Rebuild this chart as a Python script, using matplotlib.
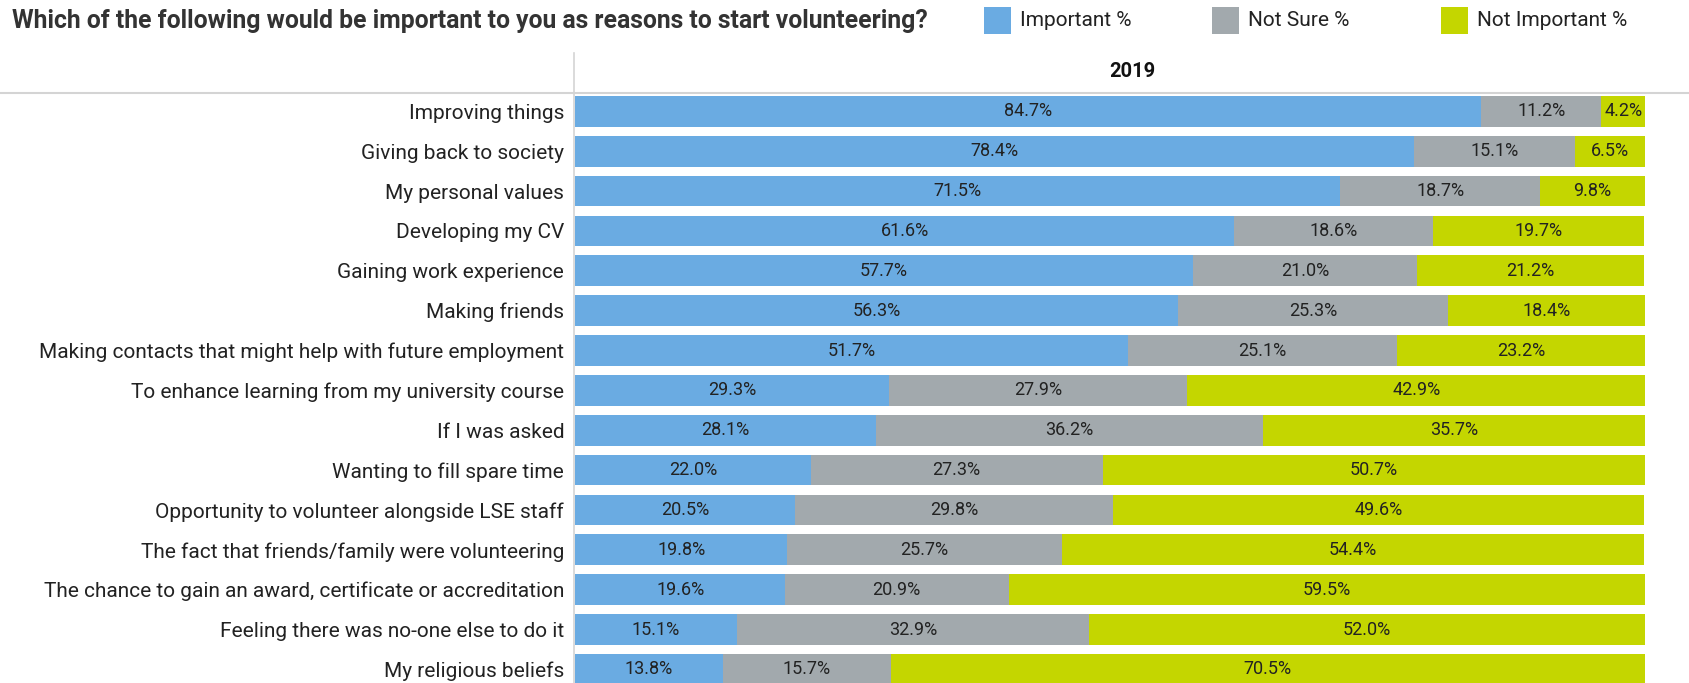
import matplotlib
matplotlib.use("Agg")
import matplotlib.pyplot as plt
from matplotlib.lines import Line2D
from matplotlib.patches import Rectangle
import numpy as np

plt.rcParams['font.family'] = ['Roboto', 'DejaVu Sans']

categories = [
    "Improving things",
    "Giving back to society",
    "My personal values",
    "Developing my CV",
    "Gaining work experience",
    "Making friends",
    "Making contacts that might help with future employment",
    "To enhance learning from my university course",
    "If I was asked",
    "Wanting to fill spare time",
    "Opportunity to volunteer alongside LSE staff",
    "The fact that friends/family were volunteering",
    "The chance to gain an award, certificate or accreditation",
    "Feeling there was no-one else to do it",
    "My religious beliefs",
]
important = [84.7, 78.4, 71.5, 61.6, 57.7, 56.3, 51.7, 29.3, 28.1, 22.0, 20.5, 19.8, 19.6, 15.1, 13.8]
not_sure = [11.2, 15.1, 18.7, 18.6, 21.0, 25.3, 25.1, 27.9, 36.2, 27.3, 29.8, 25.7, 20.9, 32.9, 15.7]
not_important = [4.2, 6.5, 9.8, 19.7, 21.2, 18.4, 23.2, 42.9, 35.7, 50.7, 49.6, 54.4, 59.5, 52.0, 70.5]
series_names = ["Important %", "Not Sure %", "Not Important %"]
colors = ["#6aabe2", "#a2a9ad", "#c4d600"]
year_label = "2019"
title = "Which of the following would be important to you as reasons to start volunteering?"

W, H = 1690, 683
fig = plt.figure(figsize=(W / 100, H / 100), dpi=100)

# axes placement in pixels
ax_left, ax_right = 575.3, 1645.0
ax_top, ax_bottom = 92.7, 683.0
ax = fig.add_axes([ax_left / W, 1 - ax_bottom / H,
                   (ax_right - ax_left) / W, (ax_bottom - ax_top) / H])

row0, step = 111.35, 39.86
ax.set_ylim((ax_bottom - row0) / step, (ax_top - row0) / step)
ax.set_xlim(0, 100)

y = np.arange(len(categories))
left = np.zeros(len(categories))
for vals, col in zip([important, not_sure, not_important], colors):
    vals = np.array(vals)
    ax.barh(y, vals, left=left, height=0.77, color=col, linewidth=0)
    for yi, l, v in zip(y, left, vals):
        ax.text(l + v / 2, yi, f"{v:.1f}%", ha="center", va="center",
                fontsize=13, color="#222222")
    left = left + vals

ax.set_yticks(y)
ax.set_yticklabels(categories, fontsize=15, color="#222222")
ax.tick_params(axis="y", length=0, pad=8)
ax.set_xticks([])
for s in ax.spines.values():
    s.set_visible(False)

# header and divider lines
fig.add_artist(Line2D([0, 1], [1 - ax_top / H, 1 - ax_top / H],
                      color="#d4d4d4", lw=1.5, transform=fig.transFigure))
fig.add_artist(Line2D([574.3 / W, 574.3 / W], [1 - 53 / H, 0],
                      color="#d4d4d4", lw=1.2, transform=fig.transFigure))

fig.text((574.3 + W) / 2 / W, 1 - 71.5 / H, year_label, ha="center", va="center",
         fontsize=14.5, fontweight="bold", color="#111111")

fig.text(12 / W, 1 - 21 / H, title, ha="left", va="center",
         fontsize=17.8, fontweight="bold", color="#333333")

# legend
leg_x = [984, 1212.3, 1441]
for x0, name, col in zip(leg_x, series_names, colors):
    fig.add_artist(Rectangle((x0 / W, 1 - 33.7 / H), 26.7 / W, 26.7 / H,
                             color=col, transform=fig.transFigure, lw=0))
    fig.text((x0 + 36) / W, 1 - 20.5 / H, name, ha="left", va="center",
             fontsize=15, color="#222222")

fig.savefig("out.png", dpi=100)
